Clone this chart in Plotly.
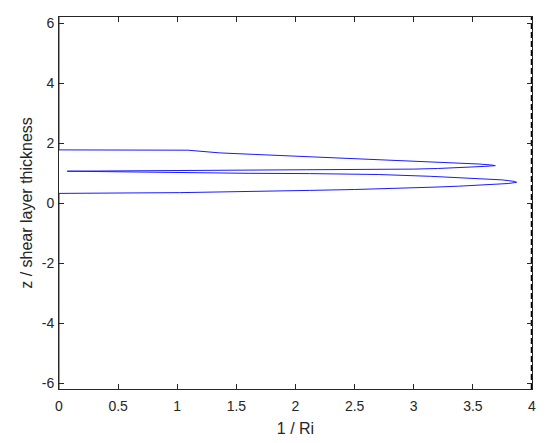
import plotly.graph_objects as go

# z / shear layer thickness (descending) and 1/Ri
z_vals = [6.2, 1.77, 1.76, 1.67, 1.62, 1.57, 1.54, 1.46, 1.42, 1.38, 1.34, 1.30, 1.265, 1.245,
          1.22, 1.18, 1.15, 1.13, 1.12, 1.11, 1.09, 1.075, 1.065, 1.06, 1.045, 1.01, 0.99,
          0.98, 0.95, 0.89, 0.83, 0.77, 0.72, 0.69, 0.65, 0.60, 0.56, 0.53, 0.49, 0.45,
          0.42, 0.39, 0.37, 0.345, 0.335, 0.33, 0.32, -6.2]
inv_ri = [0.0, 0.0, 1.09, 1.36, 1.65, 1.95, 2.12, 2.6, 2.9, 3.14, 3.38, 3.55, 3.66, 3.69,
          3.6, 3.4, 3.2, 3.0, 2.5, 2.1, 1.5, 1.0, 0.5, 0.07, 0.4, 1.02, 1.6,
          2.12, 2.7, 3.14, 3.5, 3.75, 3.85, 3.87, 3.8, 3.6, 3.38, 3.18, 2.9, 2.5,
          2.12, 1.75, 1.4, 1.02, 0.6, 0.3, 0.0, 0.0]

crit_x = [4, 4]
crit_y = [-6.2, 6.2]

x_ticks = [0, 0.5, 1, 1.5, 2, 2.5, 3, 3.5, 4]
x_tick_text = ["0", "0.5", "1", "1.5", "2", "2.5", "3", "3.5", "4"]
y_ticks = [-6, -4, -2, 0, 2, 4, 6]
y_tick_text = ["-6", "-4", "-2", "0", "2", "4", "6"]

FONT = "Liberation Sans, Arial, Helvetica, sans-serif"

fig = go.Figure()
fig.add_trace(go.Scatter(x=inv_ri, y=z_vals, mode="lines",
                         line=dict(color="#1a1aff", width=1), cliponaxis=False,
                         showlegend=False))
fig.add_trace(go.Scatter(x=crit_x, y=crit_y, mode="lines",
                         line=dict(color="black", width=2.5, dash="6px,3px"),
                         cliponaxis=False, showlegend=False))

axis_common = dict(showline=True, mirror="ticks", ticks="inside", ticklen=5,
                   linecolor="#262626", tickcolor="#262626", linewidth=1,
                   showgrid=False, zeroline=False, automargin=False,
                   tickfont=dict(family=FONT, size=14, color="#262626"))

fig.update_layout(
    width=550, height=443,
    margin=dict(l=59, r=18, t=17, b=54),
    paper_bgcolor="white", plot_bgcolor="white",
    font=dict(family=FONT, size=14, color="#262626"),
    xaxis=dict(range=[0, 4], tickvals=x_ticks, ticktext=x_tick_text,
               ticklabelstandoff=4,
               title=dict(text="1 / Ri", standoff=10,
                          font=dict(size=16, color="#262626")), **axis_common),
    yaxis=dict(range=[-6.2, 6.2], tickvals=y_ticks, ticktext=y_tick_text,
               ticklabelstandoff=1,
               title=dict(text="z / shear layer thickness", standoff=5,
                          font=dict(size=16, color="#262626")), **axis_common),
)

fig.write_html("out.html", config={"displayModeBar": False},
               post_script="document.body.style.margin='0';document.body.style.padding='0';")
